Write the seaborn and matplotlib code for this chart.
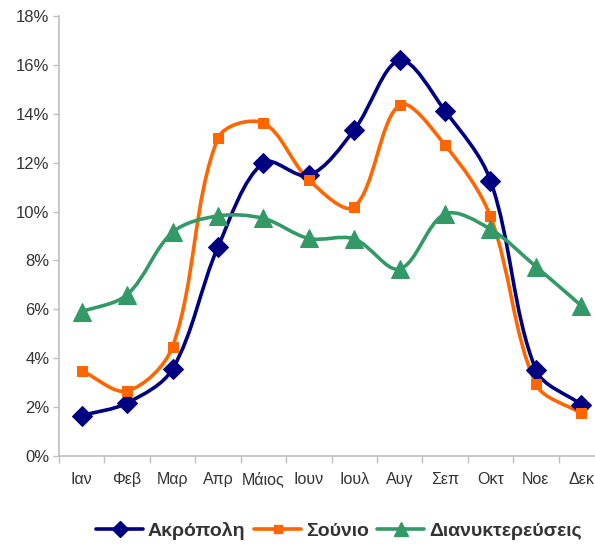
import numpy as np
import pandas as pd
import seaborn as sns
import matplotlib.pyplot as plt
from matplotlib.path import Path
from matplotlib.patches import PathPatch
from matplotlib.lines import Line2D
from matplotlib.ticker import FixedLocator, PercentFormatter

# Data (percent of yearly visitors per month)
months = ["Ιαν", "Φεβ", "Μαρ", "Απρ", "Μάιος", "Ιουν",
          "Ιουλ", "Αυγ", "Σεπ", "Οκτ", "Νοε", "Δεκ"]
akropoli = [1.65, 2.17, 3.56, 8.55, 12.0, 11.48, 13.34, 16.18, 14.12, 11.27, 3.53, 2.1]
sounio = [3.49, 2.66, 4.47, 13.0, 13.62, 11.3, 10.19, 14.36, 12.72, 9.8, 2.95, 1.74]
dianykt = [5.9, 6.6, 9.15, 9.82, 9.72, 8.9, 8.88, 7.65, 9.9, 9.28, 7.75, 6.15]

series_names = ["Ακρόπολη", "Σούνιο", "Διανυκτερεύσεις"]
colors = ["#000080", "#FF6600", "#339966"]
markers = ["D", "s", "^"]
msizes = [10.5, 7.5, 12.5]

df = pd.DataFrame({"month": months * 3,
                   "x": list(range(12)) * 3,
                   "value": akropoli + sounio + dianykt,
                   "series": [n for n in series_names for _ in months]})

sns.set_theme(style="white")
plt.rcParams['font.family'] = ['Liberation Sans', 'DejaVu Sans']

fig = plt.figure(figsize=(5.95, 5.44), dpi=100)
ax = fig.add_axes([59 / 595, 88 / 544, 545 / 595, 440 / 544])

# rough pixel size of one x step and one percent, for the smoothing weights
XS, YS = 45.4, 440 / 18


def smooth_path(xs, ys):
    # smoothed line like the spreadsheet one: cubic bezier through every point,
    # tangents weighted by neighbouring segment lengths
    pts = np.column_stack([xs, ys]).astype(float)
    ext = np.vstack([pts[0], pts, pts[-1]])
    scr = ext * [XS, YS]
    dist = np.r_[np.hypot(*(np.diff(scr, axis=0).T))]
    verts = [tuple(pts[0])]
    codes = [Path.MOVETO]
    for i in range(len(pts) - 1):
        p0, p1, p2, p3 = ext[i], ext[i + 1], ext[i + 2], ext[i + 3]
        d01, d12, d23 = dist[i], dist[i + 1], dist[i + 2]
        w1 = d12 / (d01 + d12) / 3 if d01 + d12 > 0 else 0
        w2 = d12 / (d12 + d23) / 3 if d12 + d23 > 0 else 0
        c1 = p1 + (p2 - p0) * w1
        c2 = p2 - (p3 - p1) * w2
        verts += [tuple(c1), tuple(c2), tuple(p2)]
        codes += [Path.CURVE4] * 3
    return Path(verts, codes)


for name, col in zip(series_names, colors):
    sub = df[df.series == name]
    ax.add_patch(PathPatch(smooth_path(sub.x, sub.value), facecolor="none",
                           edgecolor=col, lw=2.6, zorder=2))

for name, col, m, ms in zip(series_names, colors, markers, msizes):
    sub = df[df.series == name]
    sns.lineplot(x=sub.x, y=sub.value, linestyle="none", marker=m, ms=ms,
                 color=col, mec=col, zorder=3, ax=ax)

ax.set_xlim(-0.5, 11.5)
ax.set_ylim(0, 18)
ax.set_xlabel("")
ax.set_ylabel("")

# x: tick marks between categories, labels at centers
ax.xaxis.set_major_locator(FixedLocator(np.arange(-0.5, 12, 1)))
ax.xaxis.set_minor_locator(FixedLocator(np.arange(12)))
ax.set_xticklabels([])
ax.set_xticklabels(months, minor=True)
ax.tick_params(axis="x", which="major", length=5, width=1, color="#BFBFBF",
               direction="out", bottom=True)
ax.tick_params(axis="x", which="minor", length=0, pad=20, labelsize=11.5,
               labelcolor="#333333")
for lbl in ax.get_xticklabels(minor=True):
    lbl.set_verticalalignment("baseline")

ax.set_yticks(np.arange(0, 19, 2))
ax.yaxis.set_major_formatter(PercentFormatter(decimals=0))
ax.tick_params(axis="y", length=4, width=1, color="#BFBFBF", direction="out",
               left=True, labelsize=12, labelcolor="#333333", pad=3)

for side in ["top", "right"]:
    ax.spines[side].set_visible(False)
for side in ["left", "bottom"]:
    ax.spines[side].set_color("#BFBFBF")
    ax.spines[side].set_linewidth(1.2)
ax.grid(False)

handles = [Line2D([0], [0], color=c, lw=2.6, marker=m, ms=ms * 0.75, mec=c)
           for c, m, ms in zip(colors, markers, msizes)]
fig.legend(handles, series_names, loc="center", bbox_to_anchor=(339 / 595, 1 - 531 / 544),
           ncol=3, frameon=False, handlelength=2.4, handletextpad=0.25,
           columnspacing=0.45, prop={"weight": "bold", "size": 14},
           labelcolor="#333333")

fig.savefig("out.png", dpi=100)
